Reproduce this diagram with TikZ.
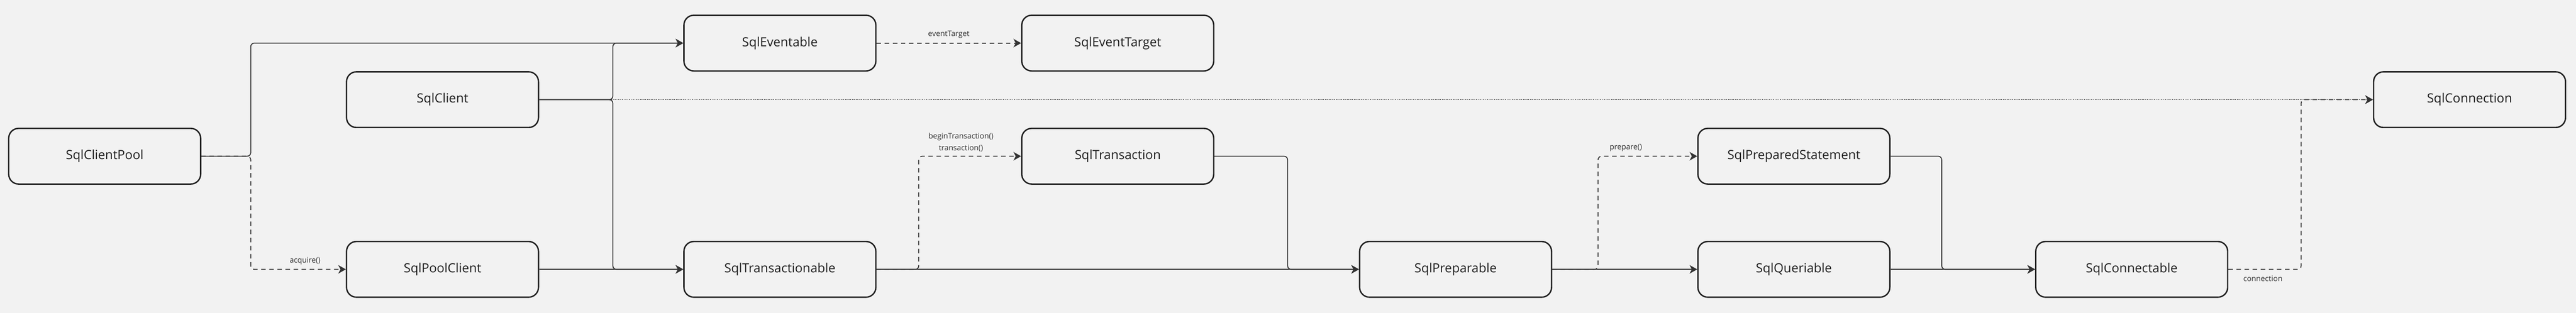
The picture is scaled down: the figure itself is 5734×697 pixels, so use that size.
\documentclass[tikz,border=0pt]{standalone}
\usepackage{fontspec}
\setmainfont{Open Sans}
\usetikzlibrary{arrows.meta}
\definecolor{bg}{HTML}{F2F2F2}
\definecolor{ln}{HTML}{333333}
\definecolor{bd}{HTML}{1E1E1E}
\begin{document}
\begin{tikzpicture}[x=0.01cm,y=-0.01cm]
    \tikzset{iface/.style = {shape=rectangle,rounded corners=0.22cm,draw=bd,line width=0.85pt,fill=bg,minimum width=4.27cm,minimum height=1.24cm,font=\fontsize{8}{10}\selectfont,text=bd}}
    \tikzset{edge/.style = {-{Stealth[length=0.17cm,width=0.19cm,inset=0.05cm]},draw=ln,line width=0.57pt,rounded corners=0.08cm}}
    \tikzset{dedge/.style = {edge,dash pattern=on 0.1cm off 0.08cm}}
    \tikzset{dotedge/.style = {edge,line width=0.45pt,dash pattern=on 0.02cm off 0.02cm}}
    \tikzset{lbl/.style = {font=\fontsize{4.8}{7.4}\selectfont,text=ln,align=center,inner sep=0pt}}
    \fill[bg] (0,0) rectangle (5734,697);
    \useasboundingbox (0,0) rectangle (5734,697);
    \node[iface] (pool) at (233,348) {SqlClientPool};
    \node[iface] (client) at (985,222) {SqlClient};
    \node[iface] (pclient) at (985,600) {SqlPoolClient};
    \node[iface] (evt) at (1736,96) {SqlEventable};
    \node[iface] (target) at (2488,96) {SqlEventTarget};
    \node[iface] (tx) at (2488,348) {SqlTransaction};
    \node[iface] (txable) at (1736,600) {SqlTransactionable};
    \node[iface] (prep) at (3240,600) {SqlPreparable};
    \node[iface] (stmt) at (3993,348) {SqlPreparedStatement};
    \node[iface] (query) at (3993,600) {SqlQueriable};
    \node[iface] (connable) at (4745,600) {SqlConnectable};
    \node[iface] (conn) at (5497,222) {SqlConnection};
    \draw[edge] (pool.east) -- ++(110,0) |- (evt.west);
    \draw[dedge] (pool.east) -- ++(110,0) |- (pclient.west);
    \draw[edge] (client.east) -- ++(164,0) |- (evt.west);
    \draw[edge] (client.east) -- ++(164,0) |- (txable.west);
    \draw[dotedge] (client.east) -- (conn.west);
    \draw[edge] (pclient) -- (txable);
    \draw[dedge] (evt) -- (target);
    \draw[dedge] (txable.east) -- ++(94,0) |- (tx.west);
    \draw[edge] (txable) -- (prep);
    \draw[edge] (tx.east) -- ++(163,0) |- (prep.west);
    \draw[dedge] (prep.east) -- ++(102,0) |- (stmt.west);
    \draw[edge] (prep) -- (query);
    \draw[edge] (stmt.east) -- ++(114,0) |- (connable.west);
    \draw[edge] (query) -- (connable);
    \draw[dedge] (connable.east) -- ++(162,0) |- (conn.west);
    \node[lbl] (lacq) at (679,581) {acquire()};
    \node[lbl] (levt) at (2112,77) {eventTarget};
    \node[lbl] (ltx) at (2139,317) {beginTransaction()\\transaction()};
    \node[lbl] (lprep) at (3619,329) {prepare()};
    \node[lbl] (lconn) at (5037,621) {connection};
\end{tikzpicture}
\end{document}
